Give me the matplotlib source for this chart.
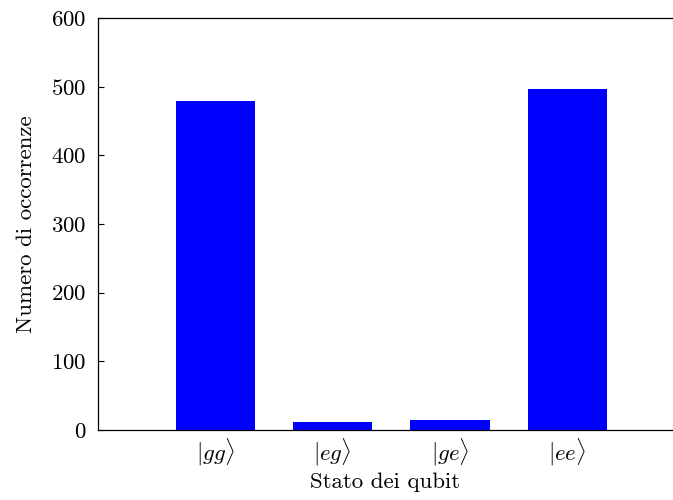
import matplotlib as mpl
mpl.use('Agg')

import matplotlib.pyplot as plt

# Conteggi delle misure sui due qubit (1000 shot)
stati = [r'$|gg\rangle$', r'$|eg\rangle$', r'$|ge\rangle$', r'$|ee\rangle$']
conteggi = [479, 11, 14, 496]

plt.rcParams['font.family'] = 'serif'
plt.rcParams['font.serif'] = ['cmr10']
plt.rcParams['mathtext.fontset'] = 'cm'
plt.rcParams['axes.unicode_minus'] = False
plt.rcParams['axes.formatter.use_mathtext'] = True

fig = plt.figure(figsize=(6.73, 5.0), dpi=100)
ax = fig.add_axes([98 / 673, 70 / 500, (673 - 98) / 673, 412 / 500])

pos = list(range(len(stati)))
ax.bar(pos, conteggi, width=0.675, color='#0000ff')

ax.set_xlim(-1, 3.9)
ax.set_ylim(0, 600)
ax.set_yticks([0, 100, 200, 300, 400, 500, 600])
ax.set_xticks(pos)
ax.set_xticklabels(stati)

ax.spines['right'].set_visible(False)
for s in ['left', 'top', 'bottom']:
    ax.spines[s].set_linewidth(0.9)

ax.tick_params(axis='y', direction='in', length=4.5, width=0.8, labelsize=16.5, pad=8)
ax.tick_params(axis='x', length=0, labelsize=16.5, pad=5)

ax.set_xlabel('Stato dei qubit', fontsize=16.5, labelpad=3)
ax.set_ylabel('Numero di occorrenze', fontsize=16.5, labelpad=11)

plt.savefig('out.png', dpi=100, facecolor='white')
